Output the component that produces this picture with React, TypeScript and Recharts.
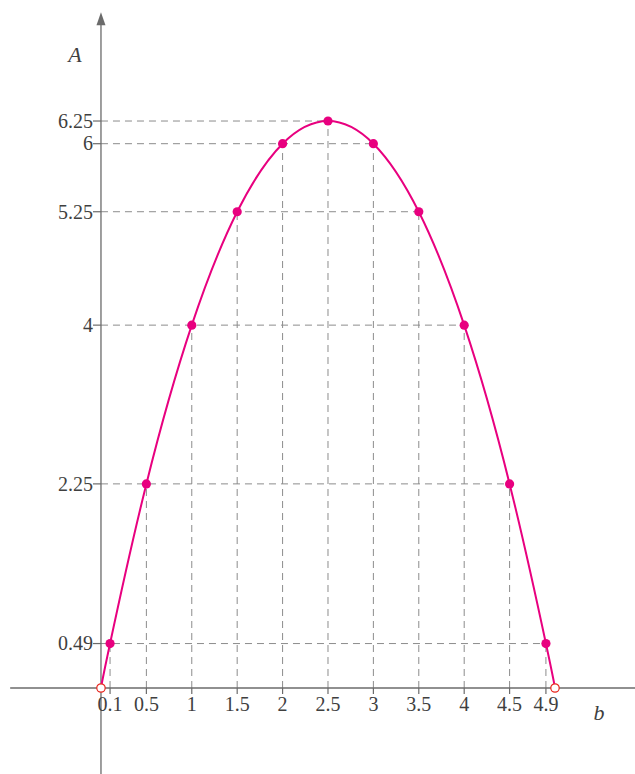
import { ComposedChart, Line, XAxis, YAxis, ReferenceLine, ReferenceDot } from 'recharts';

const bValues = [0.1, 0.5, 1, 1.5, 2, 2.5, 3, 3.5, 4, 4.5, 4.9];
const aValues = [0.49, 2.25, 4, 5.25, 6, 6.25, 6, 5.25, 4, 2.25, 0.49];
const openEnds = [
  { b: 0, a: 0 },
  { b: 5, a: 0 },
];

const xTicks = [0.1, 0.5, 1, 1.5, 2, 2.5, 3, 3.5, 4, 4.5, 4.9];
const xTickLabels = ['0.1', '0.5', '1', '1.5', '2', '2.5', '3', '3.5', '4', '4.5', '4.9'];
const yTicks = [0.49, 2.25, 4, 5.25, 6, 6.25];
const yTickLabels = ['0.49', '2.25', '4', '5.25', '6', '6.25'];

const xDomain: [number, number] = [-1.112, 5.881];
const yDomain: [number, number] = [-0.948, 7.584];
const xAxisSpan = [-1, 5.881];
const yAxisSpan = [-0.948, 7.35];
const arrowTip = 7.45;

const yLabel = { b: -0.286, a: 6.9, text: 'A' };
const xLabel = { b: 5.485, a: -0.353, text: 'b' };

const points = bValues.map((b, i) => ({ b, a: aValues[i], open: false }));
const curve = [
  { ...openEnds[0], open: true },
  ...points,
  { ...openEnds[1], open: true },
];

// horizontal guides go from the axis to the right-most point of the same height
const hGuides = yTicks.map((y) => ({
  y,
  xEnd: Math.max(...points.filter((p) => p.a === y).map((p) => p.b)),
}));

const PINK = '#e8007f';
const AXIS = '#6b6b6b';
const GUIDE = '#8c8c8c';
const TEXT = '#3f3f3f';

const renderDot = (props: any) => {
  const { cx, cy, payload, index } = props;
  if (payload.open) {
    return <circle key={`d${index}`} cx={cx} cy={cy} r={4.2} fill="#fff" stroke="#e8251d" strokeWidth={1.2} />;
  }
  return <circle key={`d${index}`} cx={cx} cy={cy} r={4.6} fill={PINK} stroke="none" />;
};

export default function App() {
  return (
    <div style={{ position: 'absolute', left: 0, top: 0, fontFamily: '"Liberation Serif", serif', background: '#fff' }}>
      <ComposedChart width={635} height={774} data={curve} margin={{ top: 0, right: 0, left: 0, bottom: 0 }}>
        <XAxis dataKey="b" type="number" domain={xDomain} allowDataOverflow hide />
        <YAxis type="number" domain={yDomain} allowDataOverflow hide />

        {hGuides.map((g) => (
          <ReferenceLine
            key={`h${g.y}`}
            segment={[
              { x: 0, y: g.y },
              { x: g.xEnd, y: g.y },
            ]}
            stroke={GUIDE}
            strokeDasharray="7 5"
            ifOverflow="visible"
          />
        ))}
        {points.map((p) => (
          <ReferenceLine
            key={`v${p.b}`}
            segment={[
              { x: p.b, y: 0 },
              { x: p.b, y: p.a },
            ]}
            stroke={GUIDE}
            strokeDasharray="7 5"
            ifOverflow="visible"
          />
        ))}

        <ReferenceLine
          segment={[
            { x: xAxisSpan[0], y: 0 },
            { x: xAxisSpan[1], y: 0 },
          ]}
          stroke={AXIS}
          strokeWidth={1.3}
          ifOverflow="visible"
        />
        <ReferenceLine
          segment={[
            { x: 0, y: yAxisSpan[0] },
            { x: 0, y: yAxisSpan[1] },
          ]}
          stroke={AXIS}
          strokeWidth={1.3}
          ifOverflow="visible"
        />
        <ReferenceDot
          x={0}
          y={arrowTip}
          ifOverflow="visible"
          shape={(p: any) => <path d={`M${p.cx} ${p.cy} l-4.5 13 l9 0 z`} fill={AXIS} />}
        />

        {yTicks.map((y, i) => (
          <ReferenceDot
            key={`yt${y}`}
            x={0}
            y={y}
            ifOverflow="visible"
            shape={(p: any) => (
              <g>
                <line x1={p.cx - 8} x2={p.cx} y1={p.cy} y2={p.cy} stroke={AXIS} strokeWidth={1.2} />
                <text x={p.cx - 8} y={p.cy + 6.8} textAnchor="end" fontSize={20} fill={TEXT}>
                  {yTickLabels[i]}
                </text>
              </g>
            )}
          />
        ))}
        {xTicks.map((x, i) => (
          <ReferenceDot
            key={`xt${x}`}
            x={x}
            y={0}
            ifOverflow="visible"
            shape={(p: any) => (
              <g>
                <line x1={p.cx} x2={p.cx} y1={p.cy} y2={p.cy + 6} stroke={AXIS} strokeWidth={1.2} />
                <text x={p.cx} y={p.cy + 23} textAnchor="middle" fontSize={20} fill={TEXT}>
                  {xTickLabels[i]}
                </text>
              </g>
            )}
          />
        ))}

        {[yLabel, xLabel].map((l) => (
          <ReferenceDot
            key={l.text}
            x={l.b}
            y={l.a}
            ifOverflow="visible"
            shape={(p: any) => (
              <text x={p.cx} y={p.cy} textAnchor="middle" fontSize={22} fontStyle="italic" fill={TEXT}>
                {l.text}
              </text>
            )}
          />
        ))}

        <Line
          type="natural"
          dataKey="a"
          stroke={PINK}
          strokeWidth={2}
          dot={renderDot}
          activeDot={false}
          isAnimationActive={false}
        />
      </ComposedChart>
    </div>
  );
}
